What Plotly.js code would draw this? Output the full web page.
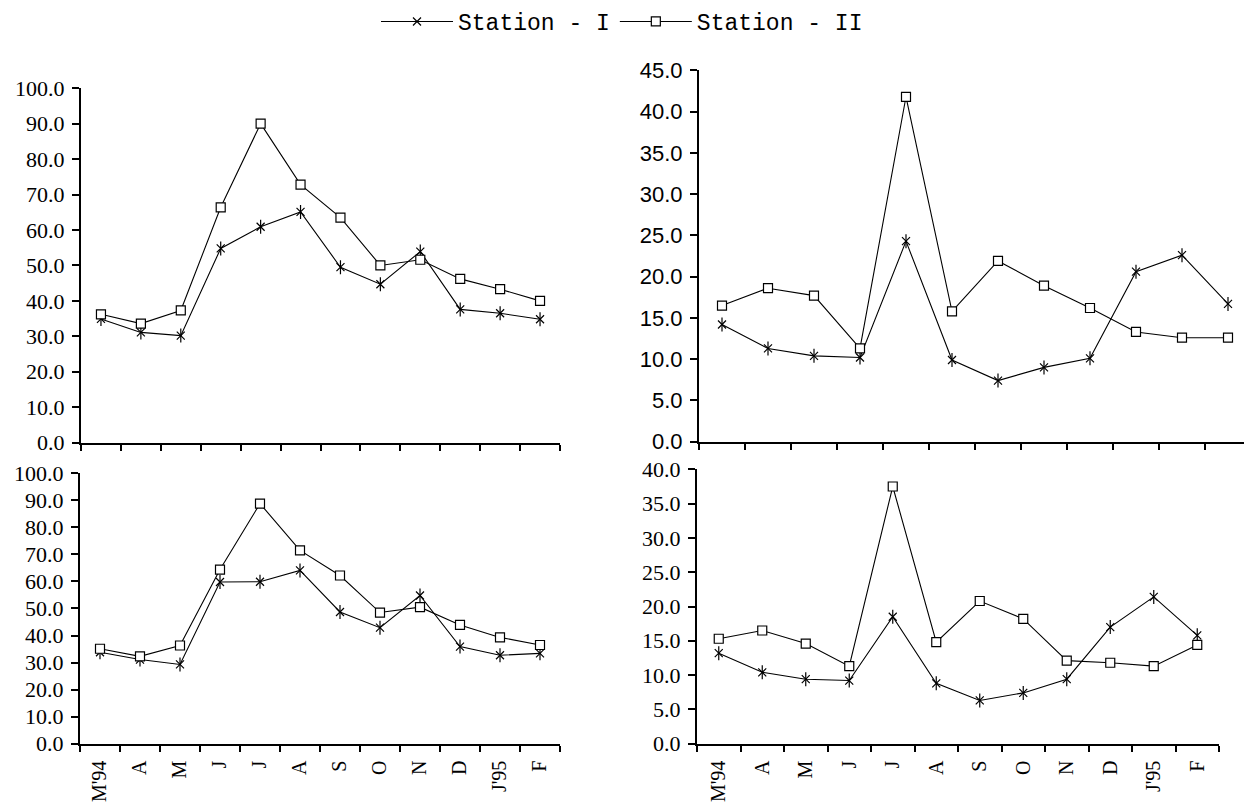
<!DOCTYPE html>
<html>
<head>
<meta charset="utf-8">
<script src="https://cdn.plot.ly/plotly-3.0.1.min.js"></script>
<style>html,body{margin:0;padding:0;background:#fff;}#chart{width:1244px;height:807px;}</style>
</head>
<body>
<div id="chart"></div>
<script>
const months = ["M'94","A","M","J","J","A","S","O","N","D","J'95","F"];
const seriesNames = ["Station - I", "Station - II"];

// Top-left panel
const tlStationI  = [34.9, 31.1, 30.2, 54.8, 60.9, 65.1, 49.5, 44.7, 53.9, 37.6, 36.5, 34.8];
const tlStationII = [36.2, 33.6, 37.3, 66.4, 90.0, 72.8, 63.5, 50.0, 51.6, 46.2, 43.3, 40.0];
// Top-right panel
const trStationI  = [14.2, 11.3, 10.4, 10.2, 24.3, 9.9, 7.4, 9.0, 10.1, 20.6, 22.6, 16.7];
const trStationII = [16.5, 18.6, 17.7, 11.3, 41.8, 15.8, 21.9, 18.9, 16.2, 13.3, 12.6, 12.6];
// Bottom-left panel
const blStationI  = [33.8, 31.1, 29.3, 59.8, 59.9, 64.1, 48.7, 42.9, 54.8, 35.9, 32.7, 33.4];
const blStationII = [35.1, 32.3, 36.3, 64.4, 88.8, 71.5, 62.2, 48.5, 50.5, 43.9, 39.3, 36.5];
// Bottom-right panel
const brStationI  = [13.2, 10.4, 9.4, 9.2, 18.5, 8.8, 6.3, 7.4, 9.4, 17.0, 21.4, 15.8];
const brStationII = [15.3, 16.5, 14.6, 11.3, 37.5, 14.8, 20.8, 18.2, 12.1, 11.8, 11.3, 14.4];

const xIdx = months.map((_, i) => i);
const boundaries = months.map((_, i) => i - 0.5).concat([months.length - 0.5]);

const panels = [
  {I: tlStationI, II: tlStationII, xa: 'x',  ya: 'y'},
  {I: trStationI, II: trStationII, xa: 'x2', ya: 'y2'},
  {I: blStationI, II: blStationII, xa: 'x3', ya: 'y3'},
  {I: brStationI, II: brStationII, xa: 'x4', ya: 'y4'}
];

const traces = [];
panels.forEach((p, k) => {
  traces.push({
    x: xIdx, y: p.I, xaxis: p.xa, yaxis: p.ya, type: 'scatter', mode: 'lines+markers',
    name: seriesNames[0], showlegend: k === 0, legendgroup: 'I',
    line: {color: '#000', width: 1.1},
    marker: {symbol: 'x-thin-open', size: 8, color: '#000', line: {color: '#000', width: 1.2}}
  });
  traces.push({
    x: xIdx, y: p.I, xaxis: p.xa, yaxis: p.ya, type: 'scatter', mode: 'markers',
    name: seriesNames[0], showlegend: false, legendgroup: 'I', hoverinfo: 'skip',
    marker: {symbol: 'line-ns-open', size: 10, color: '#000', line: {color: '#000', width: 1.2}}
  });
  traces.push({
    x: xIdx, y: p.II, xaxis: p.xa, yaxis: p.ya, type: 'scatter', mode: 'lines+markers',
    name: seriesNames[1], showlegend: k === 0, legendgroup: 'II',
    line: {color: '#000', width: 1.1},
    marker: {symbol: 'square', size: 9, color: '#fff', line: {color: '#000', width: 1.2}}
  });
});
// invisible carriers so that the month-label axes are drawn
traces.push({x: xIdx, y: blStationI, xaxis: 'x5', yaxis: 'y3', type: 'scatter', mode: 'lines',
  line: {color: 'rgba(0,0,0,0)', width: 0}, showlegend: false, hoverinfo: 'skip'});
traces.push({x: xIdx, y: brStationI, xaxis: 'x6', yaxis: 'y4', type: 'scatter', mode: 'lines',
  line: {color: 'rgba(0,0,0,0)', width: 0}, showlegend: false, hoverinfo: 'skip'});

const W = 1244, H = 807;
const fx = v => v / W;
const fy = v => 1 - v / H;

const serif = 'Liberation Serif, Times New Roman, serif';
const sans = 'Liberation Sans, Arial, sans-serif';

function xAxisBase(domain, range) {
  return {
    domain: domain, range: range, type: 'linear', tickmode: 'array',
    tickvals: boundaries, ticktext: boundaries.map(() => ''),
    showticklabels: false, ticks: 'outside', ticklen: 6, tickwidth: 2, tickcolor: '#000',
    showline: true, linewidth: 2, linecolor: '#000', showgrid: false, zeroline: false, fixedrange: true
  };
}
function yAxisBase(domain, range, dtick, font) {
  return {
    domain: domain, range: range, dtick: dtick, tick0: 0, tickformat: '.1f',
    ticks: 'outside', ticklen: 7, tickwidth: 2, tickcolor: '#000',
    showline: true, linewidth: 2, linecolor: '#000', showgrid: false, zeroline: false,
    tickfont: {family: font, size: 22, color: '#000'}, ticklabelstandoff: 3, fixedrange: true
  };
}
function labelAxis(over, anchor, range) {
  return {
    overlaying: over, anchor: anchor, range: range, type: 'linear', tickmode: 'array',
    tickvals: xIdx, ticktext: months, ticks: '', showline: false, showgrid: false, zeroline: false,
    tickangle: -90, tickfont: {family: serif, size: 20, color: '#000'}, ticklabelstandoff: 12, fixedrange: true
  };
}

const layout = {
  width: W, height: H,
  margin: {l: 0, r: 0, t: 0, b: 0},
  paper_bgcolor: '#fff', plot_bgcolor: 'rgba(0,0,0,0)',
  showlegend: true,
  legend: {
    orientation: 'h', x: 0.5, xanchor: 'center', y: 1.01, yanchor: 'top',
    font: {family: 'Liberation Mono, Courier New, monospace', size: 23, color: '#000'},
    itemwidth: 72, tracegroupgap: 0, bgcolor: 'rgba(0,0,0,0)'
  },
  xaxis:  Object.assign(xAxisBase([fx(81), fx(560)], [-0.5, 11.5]), {anchor: 'y'}),
  yaxis:  Object.assign(yAxisBase([fy(439), fy(81)], [0, 100], 10, serif), {anchor: 'x'}),
  xaxis2: Object.assign(xAxisBase([fx(699), 1], [-0.5, -0.5 + (W - 699) / 46]), {anchor: 'y2'}),
  yaxis2: Object.assign(yAxisBase([fy(438), fy(63)], [0, 45], 5, sans), {anchor: 'x2'}),
  xaxis3: Object.assign(xAxisBase([fx(80), fx(560)], [-0.5, 11.5]), {anchor: 'y3'}),
  yaxis3: Object.assign(yAxisBase([fy(743), fy(470)], [0, 100], 10, serif), {anchor: 'x3'}),
  xaxis4: Object.assign(xAxisBase([fx(697), fx(1219)], [-0.5, 11.5]), {anchor: 'y4'}),
  yaxis4: Object.assign(yAxisBase([fy(743), fy(466)], [0, 40], 5, serif), {anchor: 'x4'}),
  xaxis5: labelAxis('x3', 'y3', [-0.5, 11.5]),
  xaxis6: labelAxis('x4', 'y4', [-0.5, 11.5])
};

Plotly.newPlot('chart', traces, layout, {displayModeBar: false, staticPlot: true});
</script>
</body>
</html>
